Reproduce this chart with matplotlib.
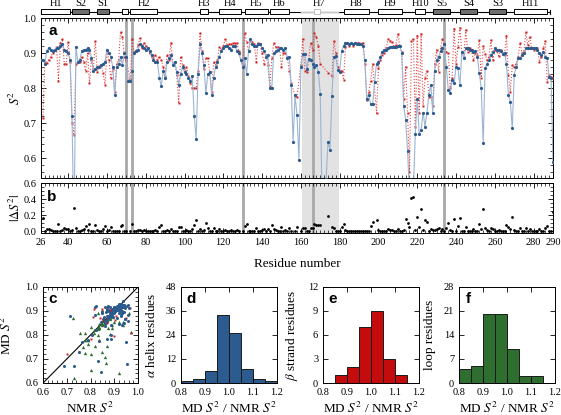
import numpy as np
import matplotlib
matplotlib.use("Agg")
import matplotlib.pyplot as plt
from matplotlib.ticker import MultipleLocator, FixedLocator
from matplotlib.patches import Rectangle

nan = np.nan

# residue numbers and order parameters (MD = blue, NMR = red)
res = np.arange(26, 291)
md = np.array([
    0.880, 0.880, 0.870, 0.905, 0.915, 0.910, 0.905, 0.910, 0.915, 0.915,  # 26-35
    0.920, 0.925, 0.910, 0.905, 0.900, 0.880, 0.720, 0.370, 0.918, 0.875,  # 36-45
    0.880, 0.905, 0.910, 0.910, 0.915, 0.910, 0.885, 0.850, 0.855, 0.860,  # 46-55
    0.860, 0.865, 0.870, 0.875, 0.910, 0.900, 0.890, 0.860, 0.780, 0.860,  # 56-65
    0.870, 0.890, 0.866, 0.900, 0.890, 0.820, 0.820, 0.850, 0.900, 0.905,  # 66-75
    0.910, 0.925, 0.920, 0.915, 0.910, 0.915, 0.905, 0.895, 0.880, 0.875,  # 76-85
    0.875, 0.830, 0.805, 0.850, 0.830, 0.875, 0.885, 0.895, 0.865, 0.875,  # 86-95
    0.845, 0.810, 0.840, 0.860, 0.845, 0.840, 0.830, 0.820, 0.835, 0.720,  # 96-105
    0.655, 0.840, 0.925, 0.900, 0.865, 0.785, 0.840, 0.845, 0.780, 0.830,  # 106-115
    0.860, 0.875, 0.890, 0.905, 0.915, 0.920, 0.920, 0.915, 0.910, 0.920,  # 116-125
    0.920, 0.905, 0.900, 0.880, 0.860, 0.885, 0.840, 0.905, 0.940, 0.925,  # 126-135
    0.920, 0.920, 0.925, 0.925, 0.915, 0.905, 0.890, 0.895, 0.800, 0.800,  # 136-145
    0.900, 0.905, 0.910, 0.915, 0.915, 0.910, 0.915, 0.885, 0.890, 0.810,  # 146-155
    0.647, 0.780, 0.723, 0.595, 0.860, 0.896, 0.896, 0.855, 0.884, 0.880,  # 156-165
    0.870, 0.860, 0.865, 0.846, 0.784, 0.450, 0.450, 0.540, 0.647, 0.624,  # 166-175
    0.776, 0.890, 0.891, 0.851, 0.847, 0.905, 0.920, 0.930, 0.930, 0.925,  # 176-185
    0.930, 0.925, 0.930, 0.925, 0.925, 0.925, 0.920, 0.880, 0.770, 0.780,  # 186-195
    0.754, 0.754, 0.818, 0.870, 0.875, 0.890, 0.904, 0.910, 0.910, 0.915,  # 196-205
    0.918, 0.918, 0.918, 0.918, 0.920, 0.920, 0.900, 0.750, 0.710, 0.620,  # 206-215
    0.500, 0.520, 0.510, 0.670, 0.770, 0.670, 0.680, 0.730, 0.690, 0.730,  # 216-225
    0.780, 0.810, 0.730, 0.850, 0.880, 0.890, 0.905, 0.915, 0.925, 0.861,  # 226-235
    0.795, 0.785, 0.823, 0.813, 0.861, 0.856, 0.808, 0.904, 0.885, 0.913,  # 236-245
    0.913, 0.910, 0.908, 0.904, 0.905, 0.890, 0.842, 0.800, 0.642, 0.856,  # 246-255
    0.868, 0.880, 0.895, 0.904, 0.913, 0.910, 0.910, 0.905, 0.897, 0.900,  # 256-265
    0.870, 0.780, 0.761, 0.685, 0.837, 0.861, 0.885, 0.885, 0.895, 0.900,  # 266-275
    0.913, 0.913, 0.913, 0.913, 0.913, 0.913, 0.908, 0.899, 0.894, 0.904,  # 276-285
    0.890, 0.885, 0.832, 0.830, 0.590,                                      # 286-290
])
nmr = np.array([
    nan, 0.713, 0.875, 0.872, 0.880, 0.890, 0.900, 0.910, 0.918, 0.820,
    0.928, 0.940, 0.870, 0.870, 0.932, 0.875, 0.700, 0.665, 0.870, 0.875,
    0.875, 0.890, 0.875, 0.848, 0.900, 0.813, 0.880, 0.855, 0.935, 0.847,
    0.862, 0.866, 0.842, 0.810, 0.905, 0.880, 0.830, 0.855, 0.790, 0.870,
    0.880, 0.960, 0.945, 0.890, 0.880, nan, 0.825, 0.940, 0.904, 0.905,
    0.923, 0.942, 0.913, 0.930, 0.920, 0.915, 0.900, 0.890, 0.885, 0.894,
    0.880, 0.890, 0.880, 0.860, 0.835, 0.894, 0.880, 0.930, 0.870, 0.875,
    0.837, 0.756, 0.890, 0.865, 0.850, 0.860, 0.835, 0.815, 0.800, 0.800,
    0.800, 0.850, 0.956, 0.905, 0.853, 0.885, 0.885, 0.847, 0.790, 0.875,
    0.865, 0.880, 0.918, 0.910, 0.920, 0.940, 0.923, 0.925, 0.925, 0.928,
    0.928, 0.928, 0.905, nan, 0.865, 0.956, 0.932, 0.905, 0.935, 0.932,
    0.925, 0.875, 0.930, 0.925, 0.900, 0.870, 0.895, 0.866, 0.805, 0.885,
    0.928, 0.918, 0.918, 0.915, 0.860, 0.900, 0.900, 0.890, 0.850, 0.815,
    nan, 0.778, 0.775, nan, 0.866, 0.940, 0.850, 0.846, 0.880, 0.928,
    0.910, 0.956, 0.945, 0.920, 0.870, nan, nan, nan, 0.844, nan,
    0.834, 0.934, 0.900, 0.860, 0.850, 0.850, 0.823, 0.918, 0.928, 0.920,
    0.928, 0.920, 0.928, 0.930, 0.930, 0.925, 0.930, 0.870, 0.765, 0.790,
    0.820, 0.870, nan, 0.728, 0.856, 0.880, 0.894, 0.900, 0.915, 0.940,
    0.935, 0.932, 0.918, 0.923, 0.955, 0.920, 0.904, 0.770, 0.860, 0.730,
    0.560, 0.935, 0.940, 0.690, 0.950, 0.730, 0.955, 0.750, 0.830, 0.850,
    0.775, 0.775, 0.750, 0.870, 0.909, 0.847, 0.914, 0.940, 0.925, 0.904,
    0.900, 0.800, 0.830, 0.970, 0.870, 0.918, 0.972, 0.900, 0.890, 0.966,
    0.904, 0.915, 0.905, 0.880, 0.900, 0.895, 0.937, 0.830, 0.920, 0.897,
    0.880, 0.890, 0.937, 0.880, 0.910, 0.905, 0.892, 0.910, 0.900, 0.895,
    0.950, 0.837, 0.790, 0.865, 0.860, 0.870, 0.890, 0.928, 0.900, 0.905,
    0.960, 0.923, 0.947, 0.913, 0.910, 0.915, 0.913, 0.875, 0.890, 0.913,
    0.934, 0.818, 0.837, 0.832, 0.830,
])
assert len(md) == len(res) and len(nmr) == len(res)

# secondary structure elements (name, first, last residue)
helices = [("H1", 26, 41), ("", 68, 71), ("H2", 72, 86), ("H3", 108, 112),
           ("H4", 118, 129), ("H5", 131, 143), ("H6", 144, 154),
           ("H8", 182, 195), ("H9", 200, 212), ("H10", 219, 224),
           ("H11", 270, 287)]
strands = [("S2", 42, 51), ("S1", 55, 61), ("S5", 228, 237),
           ("S4", 242, 251), ("S3", 257, 266)]
h7_span = (160, 179)
h7_box = (167, 170)
marked_res = [70, 73, 130, 166, 234]
shade = (160.5, 179.5)

# histograms of MD/NMR ratio
bin_edges = [0.80, 0.85, 0.90, 0.95, 1.00, 1.05, 1.10, 1.15, 1.20]
helix_counts = [1, 2, 6, 34, 25, 7, 2, 1]
strand_counts = [0, 1, 2, 7, 9, 3, 1, 0]
loop_counts = [4, 5, 20, 20, 10, 2, 2, 0]

BLUE = "#2b5b8f"
BLUE_L = "#9ab5d3"
RED = "#cc1f1f"
GREEN = "#2e6e2e"

plt.rcParams["font.family"] = ["Liberation Serif", "DejaVu Serif"]
plt.rcParams["mathtext.fontset"] = "stix"
plt.rcParams["font.size"] = 8
for a in ("x", "y"):
    plt.rcParams[a + "tick.direction"] = "in"
    plt.rcParams[a + "tick.major.size"] = 3.5
    plt.rcParams[a + "tick.minor.size"] = 2
    plt.rcParams[a + "tick.major.width"] = 0.6
    plt.rcParams[a + "tick.minor.width"] = 0.5
    plt.rcParams[a + "tick.labelsize"] = 7.5
plt.rcParams["xtick.top"] = True
plt.rcParams["ytick.right"] = True
plt.rcParams["axes.linewidth"] = 0.7

W, H = 561, 415
fig = plt.figure(figsize=(W / 100, H / 100), dpi=100)


def px_axes(x0, y0, x1, y1):
    return fig.add_axes([x0 / W, 1 - y1 / H, (x1 - x0) / W, (y1 - y0) / H])


def letter(ax, s, x, y):
    ax.text(x, y, s, transform=ax.transAxes, fontsize=11, fontweight="bold",
            family="Liberation Sans", ha="center", va="center", zorder=10)


ax_a = px_axes(41, 18, 553, 178)
ax_b = px_axes(41, 183, 553, 233)
ax_ss = px_axes(41, 0, 553, 17)

major_x = [26, 40, 60, 80, 100, 120, 140, 160, 180, 200, 220, 240, 260, 280, 290]
for ax in (ax_a, ax_b):
    ax.axvspan(*shade, color="#e2e2e2", lw=0, zorder=0)
    for r in marked_res:
        ax.axvline(r, color="#a8a8a8", lw=2.0, zorder=1)
    ax.set_xlim(26, 290)
    ax.xaxis.set_major_locator(FixedLocator(major_x))
    ax.xaxis.set_minor_locator(MultipleLocator(2))

# panel a
ok = ~np.isnan(nmr)
ax_a.plot(res[ok], nmr[ok], ":", color="#e04848", lw=0.8, zorder=2)
ax_a.plot(res[ok], nmr[ok], "s", color=RED, ms=2.0, mec="none", zorder=3)
ax_a.plot(res, md, "-", color=BLUE_L, lw=0.8, zorder=4)
ax_a.plot(res, md, "o", color=BLUE, ms=2.3, mec="none", zorder=5)
ax_a.set_ylim(0.543, 1.0)
ax_a.yaxis.set_major_locator(FixedLocator([0.6, 0.7, 0.8, 0.9, 1.0]))
ax_a.yaxis.set_minor_locator(MultipleLocator(0.02))
ax_a.tick_params(labelbottom=False)
ax_a.set_ylabel(r"$S^2$", fontsize=9)
ax_a.yaxis.set_label_coords(-0.036, 0.5)
letter(ax_a, "a", 0.022, 0.92)

# panel b
dS = np.abs(md - nmr)
ax_b.plot(res, dS, "o", color="k", ms=2.0, mec="none", zorder=3)
ax_b.set_ylim(-0.02, 0.605)
ax_b.yaxis.set_major_locator(FixedLocator([0.0, 0.2, 0.4, 0.6]))
ax_b.yaxis.set_minor_locator(MultipleLocator(0.05))
ax_b.set_ylabel(r"$|\Delta S^2|$", fontsize=9)
ax_b.yaxis.set_label_coords(-0.036, 0.5)
ax_b.set_xlabel("Residue number", fontsize=9.5, labelpad=8)
letter(ax_b, "b", 0.02, 0.72)

# secondary structure bar
ax_ss.set_xlim(26, 290)
ax_ss.set_ylim(0, 1)
ax_ss.axis("off")
yb, hb = 0.30, 0.30
ax_ss.plot([26, 288.5], [yb, yb], color="k", lw=0.8, clip_on=False, zorder=1)
ax_ss.plot([26, 26], [yb - 0.12, yb + 0.12], color="k", lw=0.8, clip_on=False)
ax_ss.plot([288.5, 288.5], [yb - 0.12, yb + 0.12], color="k", lw=0.8, clip_on=False)
ax_ss.plot(list(h7_span), [yb, yb], color="#c8c8c8", lw=1.0, clip_on=False, zorder=2)
ax_ss.add_patch(Rectangle((h7_box[0], yb - hb / 2), h7_box[1] - h7_box[0], hb,
                          fc="white", ec="#c0c0c0", lw=0.7, clip_on=False, zorder=3))
ax_ss.text(sum(h7_span) / 2, 0.78, "H7", ha="center", va="center", fontsize=7.5)
for name, s, e in helices:
    ax_ss.add_patch(Rectangle((s, yb - hb / 2), e - s, hb, fc="white", ec="k",
                              lw=0.7, clip_on=False, zorder=3))
    if name:
        ax_ss.text((s + e) / 2, 0.78, name, ha="center", va="center", fontsize=7.5)
for name, s, e in strands:
    ax_ss.add_patch(Rectangle((s, yb - hb / 2), e - s, hb, fc="#6e6e6e", ec="k",
                              lw=0.7, clip_on=False, zorder=3))
    ax_ss.text((s + e) / 2, 0.78, name, ha="center", va="center", fontsize=7.5)

# panel c: MD vs NMR by secondary structure
ss = np.array(["loop"] * len(res), dtype=object)
for _, s, e in helices + [("H7",) + h7_span]:
    ss[(res >= s) & (res <= e)] = "helix"
for _, s, e in strands:
    ss[(res >= s) & (res <= e)] = "strand"

ax_c = px_axes(43, 287, 138, 383)
ax_c.plot([0.6, 1.0], [0.6, 1.0], color="k", lw=0.8, zorder=1)
for cls, col, mk, ms in (("loop", GREEN, "^", 2.4), ("strand", RED, "s", 2.0),
                         ("helix", BLUE, "o", 2.2)):
    m = (ss == cls) & ok
    ax_c.plot(nmr[m], md[m], mk, color=col, ms=ms, mec="none", zorder=3)
ax_c.set_xlim(0.6, 1.0)
ax_c.set_ylim(0.6, 1.0)
ax_c.xaxis.set_major_locator(MultipleLocator(0.1))
ax_c.yaxis.set_major_locator(MultipleLocator(0.1))
ax_c.xaxis.set_minor_locator(MultipleLocator(0.02))
ax_c.yaxis.set_minor_locator(MultipleLocator(0.02))
ax_c.set_xlabel(r"NMR $S^2$", fontsize=9.5)
ax_c.set_ylabel(r"MD $S^2$", fontsize=9.5)
ax_c.xaxis.set_label_coords(0.5, -0.19)
ax_c.yaxis.set_label_coords(-0.30, 0.5)
letter(ax_c, "c", 0.105, 0.875)

# panels d, e, f
hists = [
    (181, helix_counts, BLUE, r"$\alpha$ helix residues", 12, "d"),
    (323, strand_counts, "#c40c0c", r"$\beta$ strand residues", 3, "e"),
    (459, loop_counts, GREEN, "loop residues", 7, "f"),
]
for x0, counts, col, ylab, step, lab in hists:
    ax = px_axes(x0, 287, x0 + 96, 383)
    ax.bar(bin_edges[:-1], counts, width=0.05, align="edge", color=col,
           edgecolor="#1a1a1a", lw=0.7)
    ax.set_xlim(0.8, 1.2)
    ax.set_ylim(0, step * 4)
    ax.xaxis.set_major_locator(MultipleLocator(0.1))
    ax.yaxis.set_major_locator(MultipleLocator(step))
    ax.set_xlabel(r"MD $S^2$ / NMR $S^2$", fontsize=9.5)
    ax.xaxis.set_label_coords(0.5, -0.19)
    ax.set_ylabel(ylab, fontsize=9.5)
    ax.yaxis.set_label_coords(-0.24, 0.5)
    letter(ax, lab, 0.1, 0.875)

fig.savefig("out.png", dpi=100)
